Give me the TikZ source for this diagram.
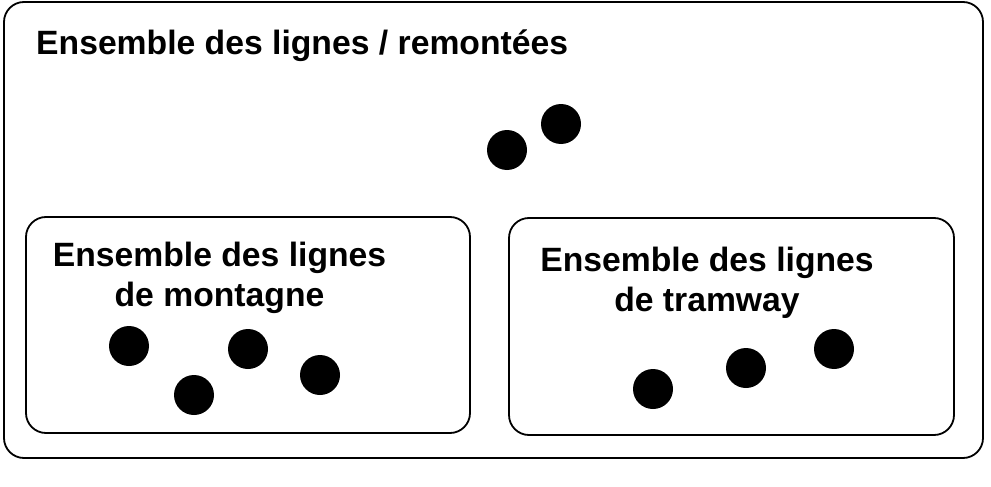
\documentclass[tikz,border=0pt]{standalone}
\usepackage{fontspec}
\setmainfont{Liberation Sans}
\begin{document}
\begin{tikzpicture}[x=1pt,y=-1pt,
  setbox/.style={draw=black,line width=1.8pt,rounded corners=20pt,inner sep=0pt,fill=none},
  dot/.style={circle,fill=black,draw=none,minimum size=40pt,inner sep=0pt},
  lbl/.style={font=\fontsize{33.7}{40}\selectfont\bfseries,inner sep=0pt,align=center}]
\useasboundingbox[fill=white] (0,0) rectangle (991,487);
\node[setbox,minimum width=979pt,minimum height=456pt] (outer) at (493.5,230) {};
\node[setbox,minimum width=444pt,minimum height=216pt] (mont) at (248,325) {};
\node[setbox,minimum width=445pt,minimum height=217pt] (tram) at (731.5,326.5) {};
\node[lbl,anchor=base west] (t0) at (36,55) {Ensemble des lignes / remontées};
\node[lbl,anchor=north] (t1) at (219.5,242) {Ensemble des lignes\\de montagne};
\node[lbl,anchor=north] (t2) at (707,247) {Ensemble des lignes\\de tramway};
\node[dot] (a1) at (507,150) {};
\node[dot] (a2) at (561,124) {};
\node[dot] (m1) at (129,346) {};
\node[dot] (m2) at (248,349) {};
\node[dot] (m3) at (194,395) {};
\node[dot] (m4) at (320,375) {};
\node[dot] (r1) at (653,389) {};
\node[dot] (r2) at (746,368) {};
\node[dot] (r3) at (834,349) {};
\end{tikzpicture}
\end{document}
